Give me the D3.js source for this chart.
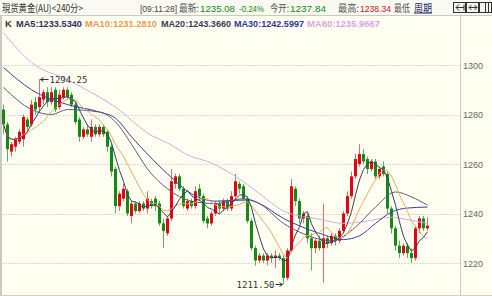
<!DOCTYPE html>
<html><head><meta charset="utf-8">
<script src="https://cdn.jsdelivr.net/npm/d3@7"></script>
<style>html,body{margin:0;padding:0;background:#fffff2;overflow:hidden}svg{display:block}</style>
</head><body><svg id="c" width="492" height="296"></svg>
<script>
// ---- data ----
const opens = [1282,1276,1265,1267,1269,1270,1278,1276,1285,1283,
  1286,1289,1285,1290,1283,1287,1290,1288,1284,1278,
  1271,1274,1271,1275,1272,1275,1273,1267,1258,1243,
  1246,1249,1239,1244,1241,1244,1242,1245,1246,1244,
  1236,1232,1238,1252,1255,1250,1242,1245,1243,1250,
  1247,1238,1236,1240,1244,1242,1245,1242,1247,1252,
  1251,1246,1237,1226,1221,1223,1221,1223,1222,1223,
  1222,1214,1225,1250,1245,1238,1239,1230,1226,1229,
  1226,1230,1228,1231,1229,1233,1240,1247,1255,1260,
  1264,1262,1258,1261,1255,1259,1256,1242,1234,1227,
  1224,1227,1224,1222,1234,1238,1234];
const closes = [1276,1266,1268,1270,1273,1279,1275,1284,1282,1287,
  1289,1285,1289,1282,1288,1290,1287,1284,1277,1271,
  1274,1272,1275,1272,1275,1272,1267,1257,1243,1248,
  1250,1240,1244,1241,1244,1242,1246,1243,1243,1236,
  1233,1238,1253,1255,1250,1243,1245,1243,1249,1247,
  1237,1236,1240,1244,1242,1245,1242,1247,1253,1250,
  1246,1237,1226,1221,1223,1221,1223,1222,1223,1222,
  1214,1225,1251,1245,1238,1240,1230,1226,1229,1226,
  1230,1228,1231,1229,1233,1240,1247,1255,1262,1264,
  1261,1258,1261,1255,1258,1256,1242,1234,1227,1224,
  1227,1224,1222,1234,1238,1234,1235.08];
const highs = [1284,1277,1269,1271,1274,1280,1279,1286,1287,1294.25,
  1290,1291,1291,1291,1290,1291,1291,1289,1285,1279,
  1275,1276,1278,1276,1276,1276,1274,1268,1259,1249,
  1252,1250,1245,1245,1245,1245,1249,1246,1247,1245,
  1238,1239,1258,1256,1256,1251,1246,1246,1251,1252,
  1248,1239,1241,1245,1245,1246,1246,1249,1256,1253,
  1252,1247,1238,1227,1224,1224,1224,1224,1225,1224,
  1223,1226,1254,1251,1246,1241,1240,1232,1230,1231,
  1244,1231,1232,1232,1234,1241,1249,1257,1264,1268,
  1266,1263,1262,1262,1259,1261,1257,1243,1235,1229,
  1228,1228,1226,1235,1239,1239,1238.34];
const lows = [1272,1261,1263,1265,1268,1267,1273,1275,1280,1281,
  1284,1283,1284,1281,1282,1286,1286,1283,1276,1269,
  1270,1271,1269,1271,1271,1271,1265,1255,1240,1241,
  1245,1239,1236,1240,1240,1241,1240,1242,1241,1235,
  1226,1231,1237,1250,1249,1242,1241,1242,1242,1245,
  1236,1234,1235,1239,1240,1241,1241,1241,1246,1248,
  1245,1236,1225,1219,1220,1220,1219,1220,1218,1221,
  1211.5,1213,1224,1243,1236,1236,1228,1217,1224,1225,
  1212,1226,1227,1227,1228,1232,1239,1246,1254,1259,
  1260,1256,1257,1254,1254,1255,1240,1232,1225,1222,
  1223,1222,1220,1221,1232,1233,1233];
// longer moving averages at candle indices
const ma20Idx = [0,7,12,16,24,28,32,36,41,47,53,60,64,70,74,82,88,93,98,102,106];
const ma20Val = [1291,1282,1280,1282,1281,1277,1268,1258,1250,1245,1244,1246,1244,1236,1232.5,1229,1234.5,1242.6,1248.7,1246.7,1243.37];
const ma30Idx = [0,7,16,24,28,32,36,41,47,53,61,64,70,74,79,85,89,93,97,101,106];
const ma30Val = [1299,1290,1284,1281,1278.5,1271,1264,1256,1248,1245,1245.5,1244,1238,1235,1232,1229.5,1231,1236,1240.6,1242.2,1242.6];
const ma60Idx = [0,7,16,24,28,34,36,41,47,51,58,64,70,74,78,85,91,97,101,106];
const ma60Val = [1313,1301,1294,1287,1283,1275,1272.5,1268.5,1263,1261,1255,1248,1241,1239,1238,1236,1237,1238.5,1237.5,1235.97];
const yTicks = [1220,1240,1260,1280,1300];
const legendItems = [
  {t:"MA5:1233.5340",  c:"#2e2e5c", x:16,  w:66},
  {t:"MA10:1231.2810", c:"#ec9a50", x:85,  w:72},
  {t:"MA20:1243.3660", c:"#3a3a58", x:161, w:70},
  {t:"MA30:1242.5997", c:"#35359a", x:234, w:70},
  {t:"MA60:1235.9667", c:"#d6a6e4", x:307, w:73}
];
const headItems = [
  {t:"現货黄金(AU)<240分>", c:"#333", x:2, w:81, cjk:true},
  {t:"[09:11:28]", c:"#444", x:140, w:37},
  {t:"最新:", c:"#555", x:179, w:20, cjk:true},
  {t:"1235.08", c:"#118811", x:200, w:35},
  {t:"-0.24%", c:"#118811", x:239, w:25},
  {t:"今开:", c:"#555", x:270, w:19, cjk:true},
  {t:"1237.84", c:"#118811", x:290, w:36},
  {t:"最高:", c:"#555", x:338, w:21, cjk:true},
  {t:"1238.34", c:"#cc1111", x:360, w:31},
  {t:"最低", c:"#555", x:394, w:16, cjk:true},
  {t:"周期", c:"#1a1a66", x:414, w:18, cjk:true, u:true}
];

// ---- drawing ----
const W = 492, H = 296;
const svg = d3.select("#c");
const N = closes.length, SLOTS = 115;
const x = d3.scaleBand().domain(d3.range(SLOTS)).range([1.5, 461.5]).paddingInner(0.25).paddingOuter(0.125);
const y = d3.scaleLinear().domain([1220, 1300]).range([263, 65]);
const cx = i => Math.floor(x(i)) + 1.5;

svg.append("rect").attr("width", W).attr("height", H).attr("fill", "#fffff2");
svg.append("rect").attr("width", W).attr("height", 15).attr("fill", "#fafaf2");
svg.append("line").attr("x1", 0).attr("x2", W).attr("y1", 15.5).attr("y2", 15.5).attr("stroke", "#c9c9c0");
svg.append("rect").attr("x", 0).attr("y", 16).attr("width", 2).attr("height", H - 16).attr("fill", "#c8c8c4");
svg.append("line").attr("x1", 460.5).attr("x2", 460.5).attr("y1", 16).attr("y2", H).attr("stroke", "#c8c8bc");
svg.append("line").attr("x1", 0).attr("x2", W).attr("y1", 295.5).attr("y2", 295.5).attr("stroke", "#cfcfc4");

// grid + right axis
const axis = d3.axisRight(y).tickValues(yTicks).tickSize(0).tickPadding(0).tickFormat(d3.format("d"));
const ag = svg.append("g").attr("transform", "translate(463,0)").call(axis);
ag.select(".domain").remove();
ag.selectAll("text").attr("font-family", "Liberation Sans, Arial, sans-serif").attr("font-size", 9).attr("fill", "#666").attr("dy", "0.35em");
svg.append("g").selectAll("line").data(yTicks).join("line")
  .attr("x1", 2).attr("x2", 460)
  .attr("y1", d => Math.round(y(d)) + 0.5).attr("y2", d => Math.round(y(d)) + 0.5)
  .attr("stroke", "#dcdccd").attr("stroke-dasharray", "2,1");

// clip
svg.append("clipPath").attr("id", "pc").append("rect").attr("x", 2).attr("y", 16).attr("width", 458).attr("height", 279);
const plot = svg.append("g").attr("clip-path", "url(#pc)");

// candles
const idx = d3.range(N);
const isUp = i => closes[i] >= opens[i];
const cg = plot.append("g");
cg.selectAll("line").data(idx).join("line")
  .attr("x1", cx).attr("x2", cx)
  .attr("y1", i => y(highs[i])).attr("y2", i => y(lows[i]))
  .attr("stroke", i => isUp(i) ? "#e86a6a" : "#5fae5f").attr("stroke-width", 1);
cg.selectAll("rect").data(idx).join("rect")
  .attr("x", i => Math.floor(x(i)))
  .attr("width", x.bandwidth())
  .attr("y", i => y(Math.max(opens[i], closes[i])))
  .attr("height", i => Math.max(1, Math.abs(y(opens[i]) - y(closes[i]))))
  .attr("fill", i => isUp(i) ? "#e60012" : "#138a13");

// moving averages
function sma(n) {
  return idx.map(i => {
    const s = Math.max(0, i - n + 1);
    return d3.mean(closes.slice(s, i + 1));
  });
}
const ma5 = sma(5), ma10 = sma(10);
const lineI = d3.line().x((d, i) => cx(i)).y(d => y(d));
const lineA = d3.line().x(d => cx(d[0])).y(d => y(d[1])).curve(d3.curveMonotoneX);
plot.append("path").attr("d", lineA(ma60Idx.map((k, j) => [k, ma60Val[j]]))).attr("fill", "none").attr("stroke", "#d8a8e6").attr("stroke-width", 1);
plot.append("path").attr("d", lineA(ma30Idx.map((k, j) => [k, ma30Val[j]]))).attr("fill", "none").attr("stroke", "#3a3aa0").attr("stroke-width", 1);
plot.append("path").attr("d", lineA(ma20Idx.map((k, j) => [k, ma20Val[j]]))).attr("fill", "none").attr("stroke", "#5a5a80").attr("stroke-width", 1);
plot.append("path").attr("d", lineI(ma10)).attr("fill", "none").attr("stroke", "#f0a860").attr("stroke-width", 1);
plot.append("path").attr("d", lineI(ma5)).attr("fill", "none").attr("stroke", "#3a3a66").attr("stroke-width", 1);

// extreme labels
const hiI = d3.maxIndex(highs), loI = d3.minIndex(lows);
const mono = "DejaVu Sans Mono, monospace";
const hy = Math.round(y(highs[hiI])) + 0.5, hx = cx(hiI) + 1;
svg.append("path").attr("d", `M${hx},${hy}H${hx + 8}M${hx},${hy}l3,-2M${hx},${hy}l3,2`).attr("stroke", "#333").attr("fill", "none");
svg.append("text").attr("x", hx + 9).attr("y", hy).attr("dy", "0.35em").attr("font-family", mono).attr("font-size", 9).attr("fill", "#333").text(d3.format(".2f")(highs[hiI]));
const ly = Math.round(y(lows[loI])) + 0.5, lx = cx(loI) - 1;
svg.append("path").attr("d", `M${lx},${ly}H${lx - 7}M${lx},${ly}l-3,-2M${lx},${ly}l-3,2`).attr("stroke", "#333").attr("fill", "none");
svg.append("text").attr("x", lx - 8).attr("y", ly).attr("dy", "0.35em").attr("text-anchor", "end").attr("font-family", mono).attr("font-size", 9).attr("fill", "#333").text(d3.format(".2f")(lows[loI]));

// header row 1
const sans = "Liberation Sans, Arial, sans-serif";
const cjk = "Noto Sans CJK SC, Noto Sans CJK TC, sans-serif";
svg.append("g").selectAll("text").data(headItems).join("text")
  .attr("x", d => d.x).attr("y", 11.5)
  .attr("font-family", d => d.cjk ? cjk : sans).attr("font-size", d => d.cjk ? 10 : 9.5)
  .attr("fill", d => d.c)
  .attr("textLength", d => d.w).attr("lengthAdjust", "spacingAndGlyphs")
  .attr("text-decoration", d => d.u ? "underline" : null)
  .text(d => d.t);
// buttons
const bg = svg.append("g").attr("fill", "none").attr("stroke", "#333").attr("stroke-width", 1);
[453.5, 466.5, 479.5].forEach((bx, k) => {
  bg.append("rect").attr("x", bx).attr("y", 2.5).attr("width", 12).attr("height", 10).attr("fill", "#f4f4ee");
});
bg.append("path").attr("d", "M456,7.5H464M456,7.5l3,-3M456,7.5l3,3M464,4.5V10.5");
bg.append("path").attr("d", "M469,7.5H477M469,7.5l2.5,-2.5M469,7.5l2.5,2.5M477,7.5l-2.5,-2.5M477,7.5l-2.5,2.5");
bg.append("path").attr("d", "M485.5,3V12M488.5,3V12");

// legend row 2
svg.append("text").attr("x", 5).attr("y", 27).attr("font-family", sans).attr("font-weight", "bold").attr("font-size", 9.5).attr("fill", "#333").text("K");
svg.append("g").selectAll("text").data(legendItems).join("text")
  .attr("x", d => d.x).attr("y", 27)
  .attr("font-family", sans).attr("font-weight", "bold").attr("font-size", 9.5)
  .attr("fill", d => d.c)
  .attr("textLength", d => d.w).attr("lengthAdjust", "spacingAndGlyphs")
  .text(d => d.t);
</script></body></html>
